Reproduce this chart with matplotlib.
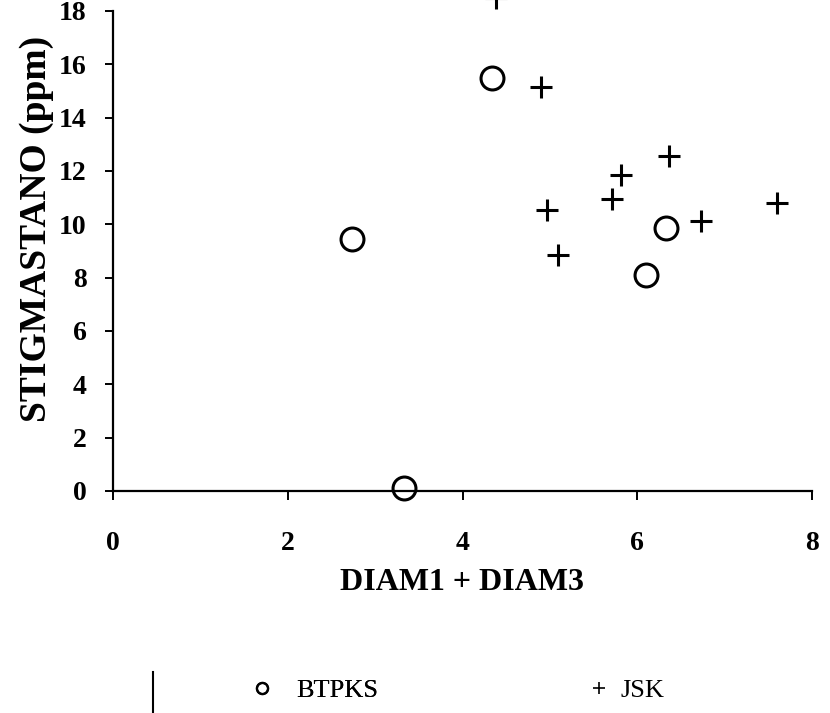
import matplotlib.pyplot as plt
from matplotlib.lines import Line2D

# BTPKS samples (circles)
btpks_x = [4.34, 2.73, 3.33, 6.33, 6.10]
btpks_y = [15.5, 9.45, 0.1, 9.86, 8.1]

# JSK samples (plus signs)
jsk_x = [4.38, 4.90, 6.36, 5.81, 5.71, 4.97, 6.73, 5.09, 7.60]
jsk_y = [18.5, 15.15, 12.56, 11.85, 10.95, 10.54, 10.12, 8.85, 10.8]

x_ticks = [0, 2, 4, 6, 8]
y_ticks = [0, 2, 4, 6, 8, 10, 12, 14, 16, 18]

plt.rcParams['font.family'] = ['Liberation Serif', 'DejaVu Serif']

fig = plt.figure(figsize=(8.3, 7.13), dpi=100)
ax = fig.add_axes([113 / 830, 1 - 491 / 713, 699 / 830, 480 / 713])

ax.plot(btpks_x, btpks_y, 'o', ms=16.5, mfc='none', mec='black', mew=2.2,
        clip_on=False, label='BTPKS')
ax.plot(jsk_x, jsk_y, '+', ms=16, mec='black', mew=2.2,
        clip_on=False, label='JSK')

ax.set_xlim(0, 8)
ax.set_ylim(0, 18)
ax.set_xticks(x_ticks)
ax.set_yticks(y_ticks)
for s in ['top', 'right']:
    ax.spines[s].set_visible(False)
for s in ['left', 'bottom']:
    ax.spines[s].set_linewidth(1.6)

ax.tick_params(axis='x', direction='out', length=6.5, width=1.4, pad=22,
               labelsize=20)
ax.tick_params(axis='y', direction='out', length=6, width=1.4, pad=13,
               labelsize=20)
for lab in ax.get_xticklabels() + ax.get_yticklabels():
    lab.set_fontweight('bold')

fig.text(462 / 830, 1 - 583 / 713, 'DIAM1 + DIAM3', ha='center', va='center',
         fontsize=23, fontweight='bold')
fig.text(37 / 830, 1 - 229 / 713, 'STIGMASTANO (ppm)', ha='center',
         va='center', rotation=90, fontsize=27, fontweight='bold')

# legend: one entry each, placed side by side
h_btpks = Line2D([], [], ls='none', marker='o', ms=8, mfc='none', mec='black',
                 mew=1.6)
h_jsk = Line2D([], [], ls='none', marker='+', ms=8, mec='black', mew=1.2)
leg1 = fig.legend([h_btpks], ['BTPKS'], frameon=False, fontsize=19,
                  loc='center left', bbox_to_anchor=(249 / 830, 1 - 690 / 713),
                  handlelength=1.0, handletextpad=0.8, borderpad=0,
                  borderaxespad=0)
fig.legend([h_jsk], ['JSK'], frameon=False, fontsize=19,
           loc='center left', bbox_to_anchor=(586 / 830, 1 - 690 / 713),
           handlelength=1.0, handletextpad=0.3, borderpad=0, borderaxespad=0)
fig.add_artist(leg1)

# leftover edge of the legend box
fig.add_artist(Line2D([153 / 830, 153 / 830], [1 - 672 / 713, 1 - 712 / 713],
                      color='black', lw=1.5))

fig.savefig('out.png', dpi=100)
